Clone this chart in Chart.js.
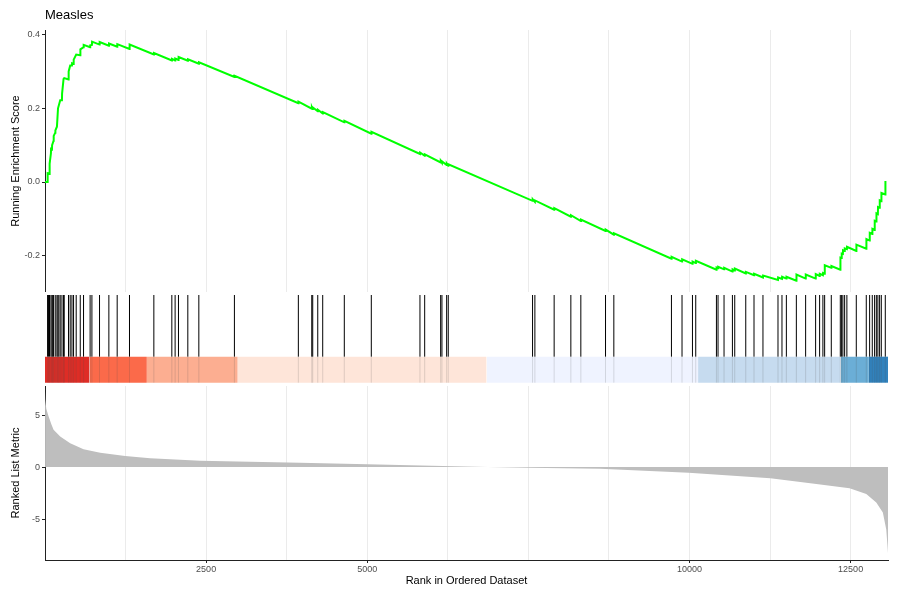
<!DOCTYPE html>
<html>
<head>
<meta charset="utf-8">
<title>Measles</title>
<script src="https://cdn.jsdelivr.net/npm/chart.js@4.4.0/dist/chart.umd.min.js"></script>
<style>
  html, body { margin: 0; padding: 0; background: #fff; width: 900px; height: 600px; overflow: hidden; }
  .panel { position: absolute; left: 0; width: 900px; }
  #esBox { top: 0; height: 292px; }
  #hitBox { top: 292px; height: 94px; }
  #metricBox { top: 386px; height: 214px; }
</style>
</head>
<body>
<div class="panel" id="esBox"><canvas id="esChart"></canvas></div>
<div class="panel" id="hitBox"><canvas id="hitChart"></canvas></div>
<div class="panel" id="metricBox"><canvas id="metricChart"></canvas></div>
<script>
// Data
const totalGenes = 13080;
const xGridBreaks = [1250, 2500, 3750, 5000, 6250, 7500, 8750, 10000, 11250, 12500];
const xTickLabels = [2500, 5000, 10000, 12500];
const esTicks = [-0.2, 0, 0.2, 0.4];
const metricTicks = [-5, 0, 5];

// Running enrichment score (rank, score)
const esRank = [0, 40, 41, 70, 72, 92, 94, 108, 110, 133, 135, 159, 161, 185, 187, 200, 202, 236, 263, 265,
  288, 298, 365, 367, 391, 418, 420, 443, 445, 484, 547, 549, 598, 600, 700, 702, 728, 730, 846, 848,
  991, 993, 1120, 1122, 1311, 1313, 1689, 1691, 1968, 1970, 2019, 2021, 2071, 2073, 2216, 2218, 2387, 2389, 2939, 2941,
  3931, 3933, 4139, 4141, 4154, 4156, 4232, 4234, 4309, 4311, 4644, 4646, 5063, 5065, 5818, 5820, 5891, 5893,
  6139, 6141, 6159, 6161, 6232, 6234, 6257, 6259, 7565, 7567, 7601, 7603, 7900, 7902, 8159, 8161, 8314, 8316,
  8697, 8699, 8826, 8828, 9720, 9722, 9884, 9886, 10046, 10048, 10097, 10099, 10418, 10420, 10443, 10445,
  10536, 10538, 10666, 10668, 10702, 10704, 10873, 10875, 11001, 11003, 11140, 11142, 11373, 11375, 11435, 11437,
  11503, 11505, 11658, 11660, 11802, 11804, 11957, 11959, 12019, 12021, 12070, 12072, 12097, 12099, 12200, 12202,
  12340, 12342, 12360, 12362, 12380, 12382, 12407, 12409, 12442, 12444, 12588, 12590, 12743, 12745, 12795, 12797,
  12836, 12838, 12872, 12874, 12899, 12901, 12923, 12925, 12950, 12952, 12976, 12978, 13038, 13040];
const esScore = [0.000, 0.000, 0.024, 0.022, 0.050, 0.078, 0.090, 0.089, 0.100, 0.112, 0.125, 0.134, 0.140, 0.150, 0.155, 0.155, 0.200, 0.222, 0.222, 0.240,
  0.280, 0.282, 0.278, 0.300, 0.316, 0.316, 0.322, 0.320, 0.332, 0.346, 0.344, 0.360, 0.366, 0.372, 0.366, 0.371, 0.372, 0.381, 0.373, 0.380,
  0.370, 0.376, 0.367, 0.374, 0.361, 0.373, 0.346, 0.350, 0.330, 0.334, 0.330, 0.335, 0.331, 0.339, 0.329, 0.333, 0.321, 0.325, 0.285, 0.288,
  0.214, 0.218, 0.199, 0.203, 0.198, 0.202, 0.192, 0.196, 0.186, 0.190, 0.162, 0.166, 0.131, 0.136, 0.076, 0.080, 0.071, 0.075,
  0.053, 0.057, 0.052, 0.056, 0.046, 0.050, 0.044, 0.048, -0.051, -0.047, -0.054, -0.050, -0.075, -0.071, -0.094, -0.090, -0.106, -0.102,
  -0.133, -0.129, -0.143, -0.139, -0.208, -0.203, -0.216, -0.210, -0.222, -0.216, -0.220, -0.214, -0.238, -0.232, -0.234, -0.230,
  -0.237, -0.233, -0.243, -0.237, -0.240, -0.235, -0.248, -0.244, -0.253, -0.249, -0.259, -0.254, -0.266, -0.259, -0.263, -0.257,
  -0.262, -0.257, -0.268, -0.251, -0.262, -0.251, -0.262, -0.250, -0.255, -0.249, -0.253, -0.247, -0.249, -0.226, -0.233, -0.228,
  -0.238, -0.205, -0.206, -0.194, -0.195, -0.185, -0.187, -0.180, -0.182, -0.176, -0.187, -0.170, -0.181, -0.155, -0.159, -0.138,
  -0.141, -0.127, -0.130, -0.105, -0.107, -0.085, -0.087, -0.068, -0.070, -0.050, -0.052, -0.030, -0.034, 0.003];

// Positions of gene set members in the ranked list
const hitRanks = [40, 55, 70, 92, 108, 120, 133, 159, 185, 200, 215, 236, 263, 288, 298, 365, 391, 418, 443, 484,
  547, 598, 700, 728, 846, 991, 1120, 1311, 1689, 1968, 2019, 2071, 2216, 2387, 2939,
  3931, 4139, 4154, 4232, 4309, 4644, 5063, 5818, 5891, 6139, 6159, 6232, 6257,
  7565, 7601, 7900, 8159, 8314, 8697, 8826, 9720, 9884, 10046, 10097, 10418, 10443, 10536, 10666, 10702,
  10873, 11001, 11140, 11373, 11435, 11503, 11658, 11802, 11957, 12019, 12070, 12097, 12200, 12340, 12360,
  12380, 12407, 12442, 12588, 12743, 12795, 12836, 12872, 12899, 12923, 12950, 12976, 13038];

// Colour strip bins (start/end rank)
const bandStart = [0, 691, 1581, 2991, 6852, 10133, 12345, 12784];
const bandEnd = [691, 1581, 2991, 6852, 10133, 12345, 12784, 13080];

// Ranked list metric (rank, value)
const metricRank = [1, 5, 20, 55, 100, 133, 236, 391, 598, 857, 1244, 1632, 2407, 3957, 5000, 6000, 6870,
  7500, 8609, 9988, 11255, 11968, 12484, 12743, 12898, 13000, 13053, 13070, 13080];
const metricValue = [7.3, 6.5, 5.6, 4.9, 4.1, 3.6, 2.95, 2.3, 1.72, 1.39, 1.07, 0.85, 0.61, 0.42, 0.26, 0.12, 0.0,
  -0.06, -0.15, -0.55, -1.07, -1.62, -2.04, -2.6, -3.4, -4.37, -6.0, -7.4, -8.3];

// Styles
const bandColors = ['#DE2D26', '#FB6A4A', '#FCAE91', '#FEE5D9', '#EFF3FF', '#C6DBEF', '#6BAED6', '#3182BD'];
const gridColor = '#ebebeb';
const axisColor = '#222';
const tickText = '#4d4d4d';

Chart.defaults.font.family = "'Liberation Sans', Arial, sans-serif";
Chart.defaults.animation = false;

// x scale shared by the three panels
function xScale(showLabels, showGrid) {
  return {
    type: 'linear',
    min: 0,
    max: totalGenes,
    display: showLabels || showGrid,
    afterBuildTicks: axis => { axis.ticks = xGridBreaks.map(v => ({ value: v })); },
    afterFit: axis => {
      if (!showLabels) axis.height = 0;
      else axis.height = 28;
      axis.paddingLeft = 0;
      axis.paddingRight = 0;
    },
    ticks: {
      display: showLabels,
      autoSkip: false,
      maxRotation: 0,
      color: tickText,
      font: { size: 9 },
      padding: 1,
      callback: v => xTickLabels.includes(v) ? String(v) : ''
    },
    grid: {
      color: showGrid ? gridColor : 'transparent',
      drawTicks: showLabels,
      tickLength: 3,
      tickColor: ctx => (ctx.tick && xTickLabels.includes(ctx.tick.value)) ? axisColor : 'transparent'
    },
    border: { display: showLabels, color: axisColor, width: 1 },
    title: {
      display: showLabels,
      text: 'Rank in Ordered Dataset',
      color: '#000',
      font: { size: 11 },
      padding: { top: 0, bottom: 0 }
    }
  };
}

// y scale with fixed width so the panels line up
function yScale(min, max, ticks, title, fmt) {
  return {
    min: min,
    max: max,
    afterBuildTicks: axis => { axis.ticks = ticks.map(v => ({ value: v })); },
    afterFit: axis => {
      axis.width = 45;
      axis.paddingTop = 0;
      axis.paddingBottom = 0;
    },
    ticks: { color: tickText, font: { size: 9 }, padding: 2, callback: fmt },
    grid: { drawOnChartArea: false, drawTicks: true, tickLength: 3, tickColor: axisColor },
    border: { display: true, color: axisColor, width: 1 },
    title: {
      display: true,
      text: title,
      color: '#000',
      font: { size: 11 },
      padding: { top: 9.4, bottom: 0 }
    }
  };
}

const noPlugins = { legend: { display: false }, tooltip: { enabled: false } };

// Running enrichment score panel
new Chart(document.getElementById('esChart'), {
  type: 'line',
  data: {
    datasets: [{
      data: esRank.map((r, i) => ({ x: r, y: esScore[i] })),
      borderColor: '#00ff00',
      borderWidth: 2,
      pointRadius: 0,
      tension: 0
    }]
  },
  options: {
    responsive: true,
    maintainAspectRatio: false,
    layout: { autoPadding: false, padding: { left: 0, right: 12, top: 0, bottom: 0 } },
    plugins: {
      ...noPlugins,
      title: {
        display: true,
        text: 'Measles',
        align: 'start',
        fullSize: false,
        color: '#000',
        font: { size: 13, weight: 'normal' },
        padding: { top: 8, bottom: 6.4 }
      }
    },
    scales: {
      x: xScale(false, true),
      y: yScale(-0.2985, 0.4125, esTicks, 'Running Enrichment Score', v => v.toFixed(1))
    }
  }
});

// Hit lines and colour strip
const hitTop = 0.968, hitBottom = 0.312, bandBottom = 0.035;

function hitSegments(lo, hi) {
  const pts = [];
  hitRanks.forEach(r => { pts.push({ x: r, y: lo }, { x: r, y: hi }, { x: r, y: null }); });
  return pts;
}

const hitDatasets = [
  {
    data: hitSegments(bandBottom, hitBottom),
    borderColor: 'rgba(80,80,80,0.18)',
    borderWidth: 1,
    pointRadius: 0,
    spanGaps: false,
    fill: false
  },
  {
    data: hitSegments(hitBottom, hitTop),
    borderColor: '#000',
    borderWidth: 1,
    pointRadius: 0,
    spanGaps: false,
    fill: false
  }
];
bandStart.forEach((s, i) => {
  hitDatasets.push({
    data: [{ x: s, y: hitBottom }, { x: bandEnd[i], y: hitBottom }],
    borderWidth: 0,
    borderColor: bandColors[i],
    backgroundColor: bandColors[i],
    pointRadius: 0,
    fill: { value: bandBottom }
  });
});

new Chart(document.getElementById('hitChart'), {
  type: 'line',
  data: { datasets: hitDatasets },
  options: {
    responsive: true,
    maintainAspectRatio: false,
    layout: { autoPadding: false, padding: { left: 45, right: 12, top: 0, bottom: 0 } },
    plugins: noPlugins,
    scales: {
      x: { type: 'linear', min: 0, max: totalGenes, display: false },
      y: { min: 0, max: 1, display: false }
    }
  }
});

// Ranked list metric panel
new Chart(document.getElementById('metricChart'), {
  type: 'line',
  data: {
    datasets: [{
      data: metricRank.map((r, i) => ({ x: r, y: metricValue[i] })),
      borderWidth: 0,
      borderColor: '#bebebe',
      backgroundColor: '#bebebe',
      pointRadius: 0,
      tension: 0,
      fill: 'origin'
    }]
  },
  options: {
    responsive: true,
    maintainAspectRatio: false,
    layout: { autoPadding: false, padding: { left: 0, right: 12, top: 0, bottom: 12 } },
    plugins: noPlugins,
    scales: {
      x: xScale(true, true),
      y: yScale(-8.94, 7.8, metricTicks, 'Ranked List Metric', v => String(v))
    }
  }
});
</script>
</body>
</html>
